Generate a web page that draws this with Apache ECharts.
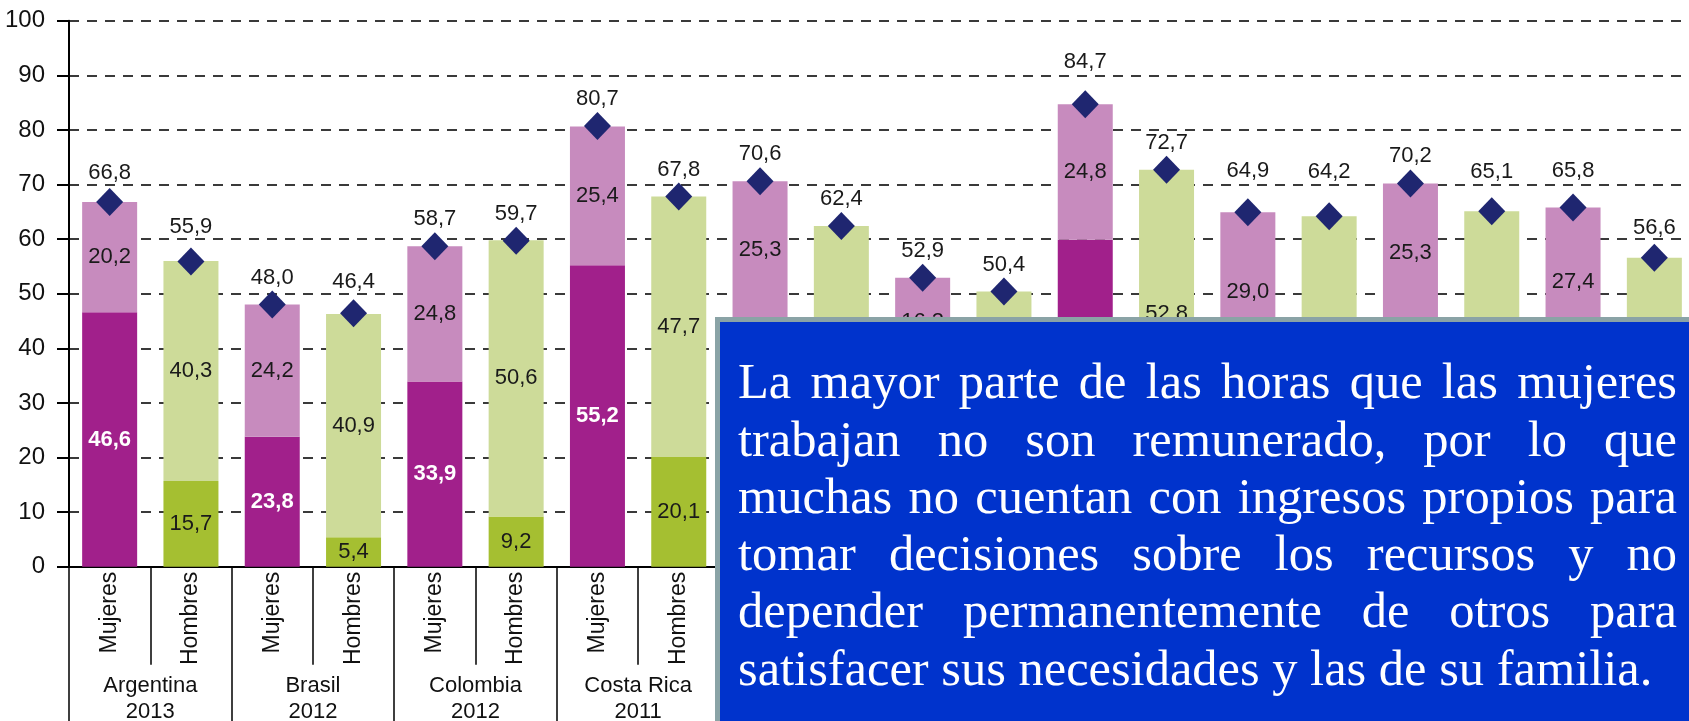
<!DOCTYPE html>
<html>
<head>
<meta charset="utf-8">
<script src="https://cdn.jsdelivr.net/npm/echarts@6/dist/echarts.min.js"></script>
<style>
  html, body { margin: 0; padding: 0; background: #fff; }
  #chart { width: 1689px; height: 721px; }
</style>
</head>
<body>
<div id="chart"></div>
<script>
// barras (Mujeres / Hombres por país), las dos últimas quedan fuera del recorte
const barras = [
    "Mujeres", "Hombres", "Mujeres", "Hombres", "Mujeres", "Hombres", "Mujeres", "Hombres",
    "Mujeres", "Hombres", "Mujeres", "Hombres", "Mujeres", "Hombres", "Mujeres", "Hombres",
    "Mujeres", "Hombres", "Mujeres", "Hombres", "Mujeres", "Hombres"
];
const paises = [
    "Argentina\n2013", "Brasil\n2012", "Colombia\n2012", "Costa Rica\n2011",
    "Ecuador\n2012", "El Salvador\n2010", "Guatemala\n2011", "México\n2014",
    "Perú\n2010", "Uruguay\n2013", ""
];

const mujeresNoRem = [46.6, null, 23.8, null, 33.9, null, 55.2, null, 45.3, null, 36.6, null, 59.9, null, 35.9, null, 44.9, null, 38.4, null, null, null];
const mujeresRem   = [20.2, null, 24.2, null, 24.8, null, 25.4, null, 25.3, null, 16.3, null, 24.8, null, 29.0, null, 25.3, null, 27.4, null, null, null];
const hombresNoRem = [null, 15.7, null, 5.4, null, 9.2, null, 20.1, null, 12.8, null, 10.4, null, 19.9, null, 11.4, null, 19.0, null, 11.3, null, null];
const hombresRem   = [null, 40.3, null, 40.9, null, 50.6, null, 47.7, null, 49.6, null, 40.0, null, 52.8, null, 52.8, null, 46.1, null, 45.3, null, null];
const totales      = [66.8, 55.9, 48.0, 46.4, 58.7, 59.7, 80.7, 67.8, 70.6, 62.4, 52.9, 50.4, 84.7, 72.7, 64.9, 64.2, 70.2, 65.1, 65.8, 56.6, null, null];

// desplazamiento extra (px) de algunas etiquetas de total, como en el original
const subirEtiqueta = [2, 8, 0, 4, 0, 0, 0, 0, 0, 0, 0, 0, 15, 0, 14, 17, 0, 12, 9, 3, 0, 0];

const yTicks = [0, 10, 20, 30, 40, 50, 60, 70, 80, 90, 100];

const recuadro = [
    "La mayor parte de las horas que las mujeres",
    "trabajan no son remunerado, por lo que",
    "muchas no cuentan con ingresos propios para",
    "tomar decisiones sobre los recursos y no",
    "depender permanentemente de otros para",
    "satisfacer sus necesidades y las de su familia."
];

const SANS = "Liberation Sans, Arial, sans-serif";
const SERIF_FONT = '50.5px "Liberation Serif"';

const fmt = (v) => (v == null ? "" : v.toFixed(1).replace(".", ","));

function segLabel(color, bold) {
    return {
        show: true,
        position: "inside",
        fontFamily: SANS,
        fontSize: 22,
        color: color,
        fontWeight: bold ? "bold" : "normal",
        formatter: (p) => fmt(p.value),
    };
}

// texto justificado del recuadro azul, palabra por palabra
function textoRecuadro() {
    const ctx = document.createElement("canvas").getContext("2d");
    ctx.font = SERIF_FONT;
    const left = 738, right = 1677, base0 = 400, paso = 57.3;
    const els = [];
    recuadro.forEach((linea, i) => {
        const palabras = linea.split(" ");
        const anchos = palabras.map((w) => ctx.measureText(w).width);
        const total = anchos.reduce((a, b) => a + b, 0);
        const ultima = i === recuadro.length - 1;
        const gap = ultima ? ctx.measureText(" ").width : (right - left - total) / (palabras.length - 1);
        let x = left;
        const y = base0 + i * paso - 15;
        palabras.forEach((w, j) => {
            els.push({
                type: "text", x: x, y: y, z: 101,
                style: { text: w, font: SERIF_FONT, fill: "#ffffff", textVerticalAlign: "middle" },
            });
            x += anchos[j] + gap;
        });
    });
    return els;
}

const totalData = totales.map((v, i) => ({
    value: v,
    label: { distance: 2 + subirEtiqueta[i] },
}));

const chart = echarts.init(document.getElementById("chart"), null, { renderer: "canvas" });

chart.setOption({
    animation: false,
    backgroundColor: "#ffffff",
    grid: { left: 69, top: 20.7, width: 22 * 81.3, height: 546, outerBoundsMode: "none", containLabel: false },
    xAxis: [
        {
            type: "category",
            data: barras,
            position: "bottom",
            axisLine: { show: true, lineStyle: { color: "#000", width: 2 } },
            axisTick: { show: true, interval: 0, length: 98, lineStyle: { color: "#000", width: 1.5 } },
            axisLabel: {
                interval: 0, rotate: 90, margin: 5,
                fontFamily: SANS, fontSize: 23, color: "#111",
            },
        },
        {
            type: "category",
            data: paises,
            position: "bottom",
            axisLine: { show: false },
            axisTick: { show: true, interval: 0, length: 160, lineStyle: { color: "#000", width: 1.5 } },
            axisLabel: {
                interval: 0, margin: 106,
                fontFamily: SANS, fontSize: 22, lineHeight: 26, color: "#111",
            },
        },
    ],
    yAxis: {
        type: "value",
        min: 0, max: 100, interval: 10,
        axisLine: { show: true, lineStyle: { color: "#000", width: 2 } },
        axisTick: { show: true, length: 12, lineStyle: { color: "#000", width: 2 } },
        axisLabel: {
            margin: 24, fontFamily: SANS, fontSize: 24, color: "#111",
            formatter: (v) => (yTicks.includes(v) ? String(v) : ""),
        },
        splitLine: { show: true, lineStyle: { color: "#3a3a3a", width: 2, type: [10, 8] } },
    },
    series: [
        {
            name: "Mujeres no remunerado", type: "bar", stack: "t", barWidth: 55,
            itemStyle: { color: "#A1208B" }, label: segLabel("#ffffff", true),
            data: mujeresNoRem,
        },
        {
            name: "Mujeres remunerado", type: "bar", stack: "t", barWidth: 55,
            itemStyle: { color: "#C78BBE" }, label: segLabel("#1a1a1a", false),
            data: mujeresRem,
        },
        {
            name: "Hombres no remunerado", type: "bar", stack: "t", barWidth: 55,
            itemStyle: { color: "#A5BF31" }, label: segLabel("#1a1a1a", false),
            data: hombresNoRem,
        },
        {
            name: "Hombres remunerado", type: "bar", stack: "t", barWidth: 55,
            itemStyle: { color: "#CDDB99" }, label: segLabel("#1a1a1a", false),
            data: hombresRem,
        },
        {
            name: "Total", type: "scatter", symbol: "diamond", symbolSize: [27, 28], z: 5,
            itemStyle: { color: "#1F2670", opacity: 1 },
            label: {
                show: true, position: "top", distance: 2,
                fontFamily: SANS, fontSize: 22, color: "#1a1a1a",
                formatter: (p) => fmt(p.value),
            },
            data: totalData,
        },
    ],
    graphic: [
        {
            type: "rect", z: 100,
            shape: { x: 717.5, y: 319.5, width: 1100, height: 500 },
            style: { fill: "#0033CC", stroke: "#8AA3A6", lineWidth: 5 },
        },
    ].concat(textoRecuadro()),
});
</script>
</body>
</html>
